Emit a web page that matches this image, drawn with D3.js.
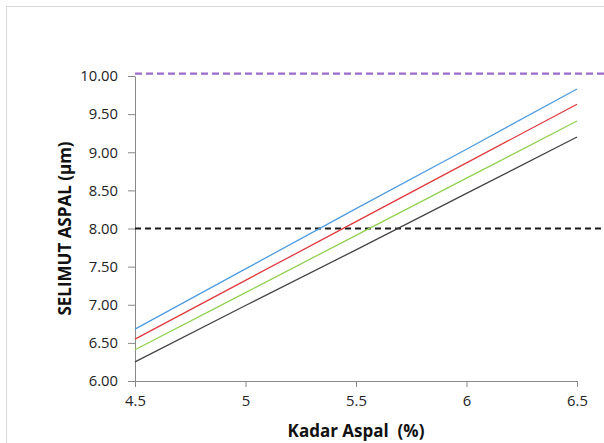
<!DOCTYPE html>
<html>
<head>
<meta charset="utf-8">
<script src="https://cdn.jsdelivr.net/npm/d3@7"></script>
<style>
  body { margin: 0; background: #fff; }
</style>
</head>
<body>
<div id="chart"></div>
<script>
// -------------------- DATA --------------------
const kadar = [4.5, 5, 5.5, 6, 6.5];
const seriesBlue = [6.68, 7.47, 8.26, 9.04, 9.83];
const seriesRed = [6.55, 7.32, 8.09, 8.86, 9.63];
const seriesGreen = [6.41, 7.16, 7.91, 8.66, 9.41];
const seriesBlack = [6.25, 6.99, 7.72, 8.46, 9.20];
const batasAtas = 10.03;   // purple dashed limit
const batasBawah = 8.00;   // black dashed limit
const xTicks = [4.5, 5, 5.5, 6, 6.5];
const yTicks = [6.0, 6.5, 7.0, 7.5, 8.0, 8.5, 9.0, 9.5, 10.0];

// -------------------- CHART --------------------
const width = 604, height = 443;
const margin = { top: 76, right: 27, bottom: 61, left: 135 };
const fontFamily = "'Open Sans', sans-serif";

const svg = d3.select("#chart")
    .append("svg")
    .attr("width", width)
    .attr("height", height);

// outer chart frame (cut off on right and bottom)
svg.append("rect")
    .attr("x", 6.5).attr("y", 6.5)
    .attr("width", width + 10).attr("height", height + 10)
    .attr("fill", "none")
    .attr("stroke", "#d9d9d9");

let x = d3.scaleLinear()
    .domain([4.5, 6.5])
    .range([margin.left, width - margin.right]);
let y = d3.scaleLinear()
    .domain([6, 10])
    .range([height - margin.bottom - 1, margin.top]);

let xAxis = g => g
    .attr("transform", `translate(0,${y(6)})`)
    .call(d3.axisBottom(x).tickValues(xTicks).tickFormat(d3.format("")).tickSize(6).tickSizeOuter(0).tickPadding(8))
    .call(g => g.selectAll("line, path").attr("stroke", "#888"))
    .call(g => g.selectAll("text").attr("fill", "#222").style("font-size", "14.8px").style("font-family", fontFamily));

let yAxis = g => g
    .attr("transform", `translate(${x(4.5)},0)`)
    .call(d3.axisLeft(y).tickValues(yTicks).tickFormat(d3.format(".2f")).tickSize(7).tickSizeOuter(0).tickPadding(10))
    .call(g => g.selectAll("line, path").attr("stroke", "#888"))
    .call(g => g.selectAll("text").attr("fill", "#222").style("font-size", "14.8px").style("font-family", fontFamily));

svg.append("g").call(xAxis);
svg.append("g").call(yAxis);

// dashed limit lines run past the plot to the edge
svg.append("line")
    .attr("x1", x(4.5)).attr("x2", width)
    .attr("y1", y(batasAtas)).attr("y2", y(batasAtas))
    .attr("stroke", "#9b6bcc").attr("stroke-width", 2.2)
    .attr("stroke-dasharray", "7,4");

svg.append("line")
    .attr("x1", x(4.5)).attr("x2", width)
    .attr("y1", y(batasBawah)).attr("y2", y(batasBawah))
    .attr("stroke", "#1a1a1a").attr("stroke-width", 1.8)
    .attr("stroke-dasharray", "6,4");

const series = [
    { values: seriesBlue, color: "#4f9be0" },
    { values: seriesRed, color: "#e0393e" },
    { values: seriesGreen, color: "#92d050" },
    { values: seriesBlack, color: "#444444" }
];

let line = d3.line()
    .x((d, i) => x(kadar[i]))
    .y(d => y(d));

svg.append("g")
    .selectAll("path")
    .data(series)
    .join("path")
    .attr("d", d => line(d.values))
    .attr("fill", "none")
    .attr("stroke", d => d.color)
    .attr("stroke-width", 1.3);

// axis titles
svg.append("text")
    .attr("x", (x(4.5) + x(6.5)) / 2)
    .attr("y", 437)
    .attr("text-anchor", "middle")
    .attr("font-family", fontFamily)
    .attr("font-weight", "bold")
    .attr("font-size", 17)
    .attr("fill", "#111")
    .text("Kadar Aspal \u00a0(%)");

svg.append("text")
    .attr("transform", `translate(71,${(y(6) + y(10)) / 2}) rotate(-90)`)
    .attr("text-anchor", "middle")
    .attr("font-family", fontFamily)
    .attr("font-weight", "bold")
    .attr("font-size", 17)
    .attr("fill", "#111")
    .text("SELIMUT ASPAL (\u03bcm)");
</script>
</body>
</html>
